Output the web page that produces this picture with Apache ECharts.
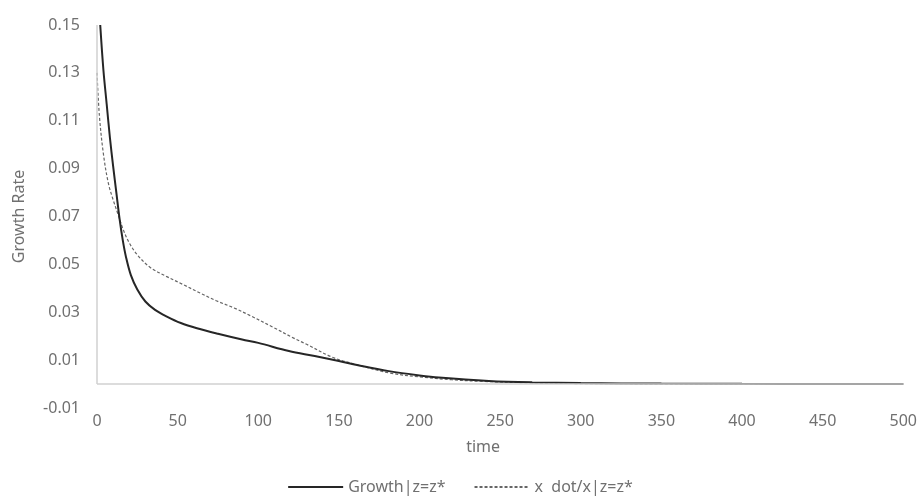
<!DOCTYPE html>
<html>
<head>
<meta charset="utf-8">
<script src="https://cdn.jsdelivr.net/npm/echarts@6/dist/echarts.min.js"></script>
<style>html,body{margin:0;padding:0;background:#fff}#c{width:920px;height:502px}</style>
</head>
<body>
<div id="c"></div>
<script>
const seriesNames = ['Growth|z=z*', 'x  dot/x|z=z*'];
const growthT = [2,4,6,8,10,12,14,16,18,21,25,30,36,43,52,62,75,90,100,119,135,150,165,181,200,212,243,270,300,350,400,450,500];
const growthV = [0.150,0.131,0.117,0.103,0.091,0.080,0.069,0.060,0.053,0.0455,0.0395,0.0345,0.031,0.0283,0.0255,0.0233,0.021,0.0186,0.0172,0.0138,0.0117,0.0096,0.0074,0.0054,0.0036,0.0027,0.0013,0.0007,0.0004,0.0002,0.0001,0.00005,0.00003];
const xdotT = [0,1.5,4,7,10,13,16,20,25,33,43,53,64,74,85,95,109,122,130,146,160,181,200,220,240,270,300,350,400,500];
const xdotV = [0.130,0.112,0.096,0.084,0.077,0.071,0.065,0.059,0.054,0.0487,0.045,0.0417,0.038,0.0348,0.0318,0.0286,0.0238,0.0192,0.0166,0.0112,0.0083,0.0047,0.0030,0.0018,0.0011,0.0005,0.0002,0.0001,0.00005,0.00002];
const xTicks = [0,50,100,150,200,250,300,350,400,450,500];
const yTicks = [-0.01,0.01,0.03,0.05,0.07,0.09,0.11,0.13,0.15];

const zip = (a, b) => a.map((v, i) => [v, b[i]]);
const chart = echarts.init(document.getElementById('c'));
const fontFam = '"Noto Sans", sans-serif';
const grayText = '#707070';
const fs = 16;
chart.setOption({
  animation: false,
  backgroundColor: '#fff',
  grid: {left: 97, right: 15, top: 25, bottom: 94, containLabel: false},
  xAxis: {
    type: 'value', min: xTicks[0], max: xTicks[xTicks.length-1], interval: 50,
    name: 'time', nameLocation: 'middle', nameGap: 31,
    nameTextStyle: {color: grayText, fontSize: fs, fontFamily: fontFam, padding: [0, 34, 0, 0]},
    axisLine: {show: false}, axisTick: {show: false}, splitLine: {show: false},
    axisLabel: {color: grayText, fontSize: fs, fontFamily: fontFam, margin: 5}
  },
  yAxis: {
    type: 'value', min: yTicks[0], max: yTicks[yTicks.length-1], interval: 0.02,
    name: 'Growth Rate', nameLocation: 'middle', nameGap: 70, nameRotate: 90,
    nameTextStyle: {color: grayText, fontSize: fs, fontFamily: fontFam},
    axisLine: {show: false}, axisTick: {show: false}, splitLine: {show: false},
    axisLabel: {color: grayText, fontSize: fs, fontFamily: fontFam, margin: 17,
      formatter: v => v.toFixed(2)}
  },
  legend: {
    bottom: 2, left: 'center', itemWidth: 55, itemHeight: 10, itemGap: 28,
    itemStyle: {opacity: 0},
    textStyle: {color: grayText, fontSize: fs, fontFamily: fontFam},
    data: seriesNames
  },
  series: [
    {
      name: seriesNames[0], type: 'line', data: zip(growthT, growthV), smooth: 0.35,
      symbol: 'none', lineStyle: {color: '#262626', width: 2}, itemStyle: {color: '#262626'}, z: 3,
      markLine: {
        silent: true, symbol: 'none', label: {show: false}, animation: false,
        lineStyle: {color: '#d0d0d0', width: 1.5, type: 'solid'},
        data: [
          [{coord: [0, 0]}, {coord: [500, 0]}],
          [{coord: [0, 0]}, {coord: [0, 0.15]}]
        ]
      }
    },
    {
      name: seriesNames[1], type: 'line', data: zip(xdotT, xdotV), smooth: 0.35,
      symbol: 'none', lineStyle: {color: '#666666', width: 1.2, type: [3, 2]}, itemStyle: {color: '#666666'}, z: 2
    }
  ]
});
</script>
</body>
</html>
